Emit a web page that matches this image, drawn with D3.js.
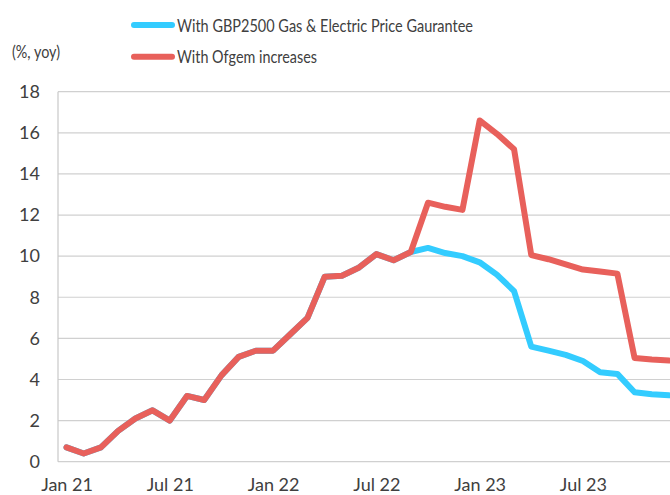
<!DOCTYPE html>
<html>
<head>
<meta charset="utf-8">
<script src="https://cdn.jsdelivr.net/npm/d3@7"></script>
<style>
  html, body { margin: 0; padding: 0; background: #fff; }
  svg { display: block; }
  text { font-family: Lato, "Open Sans", sans-serif; fill: #404040; }
</style>
</head>
<body>
<svg id="chart" width="670" height="495"></svg>
<script>
const months = ["Jan 21","Feb 21","Mar 21","Apr 21","May 21","Jun 21","Jul 21","Aug 21","Sep 21","Oct 21","Nov 21","Dec 21",
  "Jan 22","Feb 22","Mar 22","Apr 22","May 22","Jun 22","Jul 22","Aug 22","Sep 22","Oct 22","Nov 22","Dec 22",
  "Jan 23","Feb 23","Mar 23","Apr 23","May 23","Jun 23","Jul 23","Aug 23","Sep 23","Oct 23","Nov 23","Dec 23"];
const ofgem = [0.7,0.4,0.7,1.5,2.1,2.5,2.0,3.2,3.0,4.2,5.1,5.4,
  5.4,6.2,7.0,9.0,9.05,9.45,10.1,9.8,10.2,12.6,12.4,12.25,
  16.6,15.95,15.2,10.05,9.85,9.6,9.35,9.25,9.15,5.05,4.97,4.92];
const guarantee = [0.7,0.4,0.7,1.5,2.1,2.5,2.0,3.2,3.0,4.2,5.1,5.4,
  5.4,6.2,7.0,9.0,9.05,9.45,10.1,9.8,10.2,10.4,10.15,10.0,
  9.7,9.1,8.3,5.6,5.4,5.2,4.9,4.35,4.27,3.38,3.28,3.23];
const yTicks = [0,2,4,6,8,10,12,14,16,18];
const xTickLabels = ["Jan 21","Jul 21","Jan 22","Jul 22","Jan 23","Jul 23"];
const seriesNames = ["With GBP2500 Gas & Electric Price Gaurantee","With Ofgem increases"];
const colors = ["#33CCFF","#E8605B"];

const svg = d3.select("#chart");
const mLeft = 58, mRight = 670, mTop = 91.7, mBottom = 461.7;

const x = d3.scaleLinear().domain([0, months.length - 1]).range([66.5, 669]);
const y = d3.scaleLinear().domain([0, 18]).range([mBottom, mTop]);

// gridlines
svg.append("g").selectAll("line").data(yTicks).join("line")
  .attr("x1", mLeft).attr("x2", mRight)
  .attr("y1", d => y(d)).attr("y2", d => y(d))
  .attr("stroke", "#d0d0d0").attr("stroke-width", 1.2);

// y axis line
svg.append("line").attr("x1", mLeft).attr("x2", mLeft)
  .attr("y1", mTop).attr("y2", mBottom)
  .attr("stroke", "#c8c8c8").attr("stroke-width", 1.2);

// y axis labels
const yAxis = d3.axisLeft(y).tickValues(yTicks).tickSize(0).tickPadding(18);
const gy = svg.append("g").attr("transform", `translate(${mLeft},0)`).call(yAxis);
gy.select(".domain").remove();
gy.selectAll("text").style("font-family", "Lato, sans-serif").style("font-size", "18px").attr("fill", "#404040");

// x axis labels
const xAxis = d3.axisBottom(x)
  .tickValues(xTickLabels.map(l => months.indexOf(l)))
  .tickFormat(i => months[i]).tickSize(0).tickPadding(16.5);
const gx = svg.append("g").attr("transform", `translate(0,${mBottom})`).call(xAxis);
gx.select(".domain").remove();
gx.selectAll("text").style("font-family", "Lato, sans-serif").style("font-size", "18px").attr("fill", "#404040");

// lines
const line = d3.line().x((d, i) => x(i)).y(d => y(d));
[guarantee, ofgem].forEach((s, k) => {
  svg.append("path").datum(s).attr("d", line)
    .attr("fill", "none").attr("stroke", colors[k])
    .attr("stroke-width", 6).attr("stroke-linejoin", "round").attr("stroke-linecap", "round");
});

// unit label
svg.append("text").attr("x", 12).attr("y", 58).style("font-size", "18px")
  .attr("textLength", 48).attr("lengthAdjust", "spacingAndGlyphs").text("(%, yoy)");

// legend
const legendWidths = [296, 140];
seriesNames.forEach((n, k) => {
  const ly = 25 + k * 31.7;
  svg.append("line").attr("x1", 134).attr("x2", 172).attr("y1", ly).attr("y2", ly)
    .attr("stroke", colors[k]).attr("stroke-width", 6).attr("stroke-linecap", "round");
  svg.append("text").attr("x", 177).attr("y", ly + 6.5).style("font-size", "18px")
    .attr("textLength", legendWidths[k]).attr("lengthAdjust", "spacingAndGlyphs").text(n);
});
</script>
</body>
</html>
